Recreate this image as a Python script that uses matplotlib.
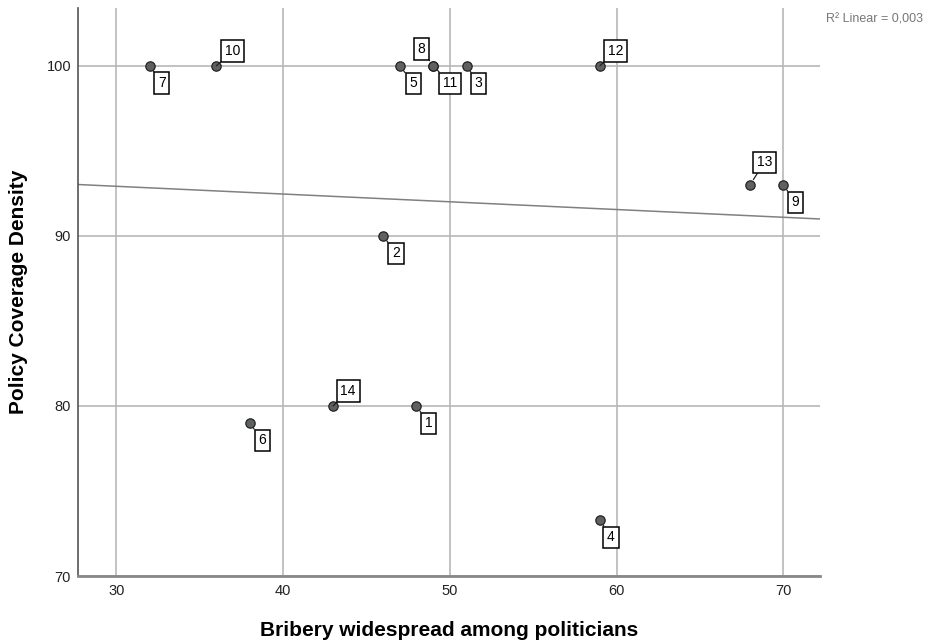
import numpy as np
import matplotlib
matplotlib.use("Agg")
import matplotlib.pyplot as plt

plt.rcParams["font.family"] = ["Liberation Sans", "DejaVu Sans"]

# case number, bribery score, policy coverage density
cases = [1, 2, 3, 4, 5, 6, 7, 8, 9, 10, 11, 12, 13, 14]
bribery = [48, 46, 51, 59, 47, 38, 32, 49, 70, 36, 49, 59, 68, 43]
coverage = [80, 90, 100, 73.3, 100, 79, 100, 100, 93, 100, 100, 100, 93, 80]

x_ticks = [30, 40, 50, 60, 70]
y_ticks = [70, 80, 90, 100]

# label offsets (pixels, right/up) per case
offsets = {
    1: (12, -17.5), 2: (13, -17.5), 3: (12, -17.5), 4: (11, -17.5), 5: (13.5, -17.5),
    6: (12.5, -17.5), 7: (12, -17), 8: (-12, 17), 9: (12, -17.5), 10: (16, 15),
    11: (17, -17.5), 12: (16, 15), 13: (14.5, 22.5), 14: (15, 15),
}

fig = plt.figure(figsize=(9.35, 6.42), dpi=100)
ax = fig.add_axes([78 / 935, 1 - 576 / 642, (820 - 78) / 935, (576 - 8) / 642])

xlim = (27.7, 72.2)
ylim = (70, 103.4)
ax.set_xlim(*xlim)
ax.set_ylim(*ylim)
ax.set_xticks(x_ticks)
ax.set_yticks(y_ticks)
ax.grid(True, color="#b8b8b8", lw=1.2)
ax.set_axisbelow(True)
ax.tick_params(length=0, labelsize=10.5, colors="#222222")
ax.tick_params(axis="x", pad=6)
ax.tick_params(axis="y", pad=5)

for s in ["top", "right"]:
    ax.spines[s].set_visible(False)
ax.spines["left"].set_color("#555555")
ax.spines["left"].set_linewidth(1.2)
ax.spines["bottom"].set_color("#888888")
ax.spines["bottom"].set_linewidth(2)

# linear fit
slope, icpt = np.polyfit(bribery, coverage, 1)
xs = np.array(xlim)
ax.plot(xs, slope * xs + icpt, color="#808080", lw=1.1, zorder=2)

ax.scatter(bribery, coverage, s=45, color="#5e6162", edgecolor="#222222",
           linewidth=0.9, zorder=4)

for c, xv, yv in zip(cases, bribery, coverage):
    dx, dy = offsets[c]
    ax.annotate(str(c), (xv, yv), xytext=(dx, dy), textcoords="offset pixels",
                ha="center", va="center", fontsize=10,
                bbox=dict(boxstyle="square,pad=0.27", fc="white", ec="black", lw=1.1),
                arrowprops=dict(arrowstyle="-", color="#222222", lw=0.9,
                                shrinkA=0, shrinkB=4.5),
                zorder=5)

ax.set_xlabel("Bribery widespread among politicians", fontsize=15, fontweight="bold",
              va="top")
ax.xaxis.set_label_coords(0.5, (576 - 621) / 568)
ax.set_ylabel("Policy Coverage Density", fontsize=15, fontweight="bold")
ax.yaxis.set_label_coords((28 - 78) / 742, 0.5)

r2 = (np.corrcoef(bribery, coverage)[0, 1]) ** 2
fig.text(826 / 935, 1 - 20 / 642, "R² Linear = " + f"{r2:.3f}".replace(".", ","),
         fontsize=9, color="#777777", ha="left", va="center")

fig.savefig("out.png", dpi=100)
